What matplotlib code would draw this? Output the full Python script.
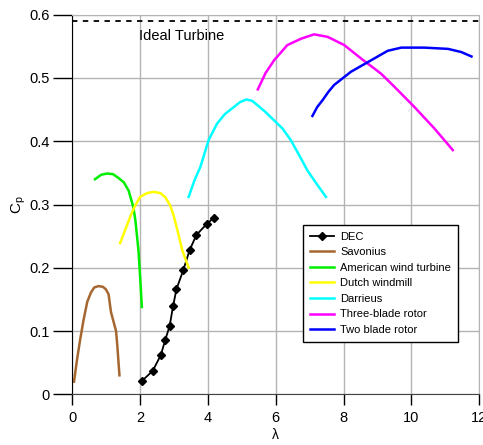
"""Power coefficient Cp vs tip speed ratio for several rotor types."""

import matplotlib
matplotlib.use("Agg")
import matplotlib.pyplot as plt

plt.rcParams["font.family"] = ["Liberation Sans", "DejaVu Sans"]
plt.rcParams["mathtext.fontset"] = "custom"
plt.rcParams["mathtext.rm"] = "Liberation Sans"

# values
dec_x = [2.05, 2.37, 2.61, 2.74, 2.87, 2.97, 3.07, 3.27, 3.46, 3.66, 3.96, 4.17]
dec_y = [0.021, 0.037, 0.062, 0.086, 0.108, 0.139, 0.166, 0.196, 0.228, 0.252, 0.269, 0.279]

savonius_x = [0.05, 0.14, 0.23, 0.33, 0.44, 0.55, 0.65, 0.77, 0.90, 0.99, 1.07, 1.14, 1.29, 1.33, 1.39]
savonius_y = [0.02, 0.055, 0.086, 0.117, 0.146, 0.161, 0.169, 0.171, 0.170, 0.166, 0.158, 0.13, 0.10, 0.075, 0.03]

american_x = [0.67, 0.85, 1.02, 1.20, 1.36, 1.52, 1.66, 1.80, 1.86, 1.95, 2.0, 2.05]
american_y = [0.340, 0.347, 0.349, 0.348, 0.342, 0.335, 0.322, 0.296, 0.275, 0.228, 0.186, 0.138]

dutch_x = [1.41, 1.56, 1.71, 1.85, 2.0, 2.2, 2.4, 2.6, 2.75, 2.89, 2.99, 3.12, 3.24, 3.43]
dutch_y = [0.239, 0.260, 0.281, 0.298, 0.312, 0.318, 0.320, 0.318, 0.311, 0.298, 0.282, 0.255, 0.228, 0.20]

darrieus_x = [3.43, 3.60, 3.78, 4.02, 4.27, 4.50, 4.76, 4.95, 5.13, 5.30, 5.46, 5.70, 5.95, 6.20, 6.44, 6.70, 6.93, 7.20, 7.48]
darrieus_y = [0.312, 0.338, 0.36, 0.402, 0.428, 0.443, 0.454, 0.462, 0.466, 0.464, 0.457, 0.446, 0.433, 0.420, 0.402, 0.377, 0.354, 0.333, 0.312]

three_x = [5.47, 5.70, 5.95, 6.34, 6.74, 7.13, 7.53, 8.02, 8.51, 9.10, 9.50, 10.09, 10.68, 11.22]
three_y = [0.482, 0.508, 0.528, 0.552, 0.562, 0.569, 0.565, 0.552, 0.531, 0.507, 0.486, 0.454, 0.420, 0.386]

two_x = [7.08, 7.22, 7.38, 7.55, 7.72, 8.22, 8.81, 9.30, 9.70, 10.38, 11.08, 11.47, 11.77]
two_y = [0.44, 0.454, 0.465, 0.478, 0.489, 0.510, 0.528, 0.543, 0.548, 0.548, 0.546, 0.541, 0.534]

betz_limit = 0.59


def main():
    fig = plt.figure(figsize=(4.83, 4.45), dpi=100)
    ax = fig.add_axes([0.1497, 0.1139, 0.8426, 0.853])

    ax.axhline(betz_limit, color="black", linestyle=(0, (3, 3)), linewidth=1.3)
    ax.text(1.97, 0.566, "Ideal Turbine", fontsize=10.5, va="center")

    ax.plot(dec_x, dec_y, color="black", linewidth=1.3, marker="D",
            markersize=4, label="DEC")
    ax.plot(savonius_x, savonius_y, color="#a5672f", linewidth=1.8, label="Savonius")
    ax.plot(american_x, american_y, color="#00ee00", linewidth=1.8,
            label="American wind turbine")
    ax.plot(dutch_x, dutch_y, color="#ffff00", linewidth=1.8, label="Dutch windmill")
    ax.plot(darrieus_x, darrieus_y, color="#00ffff", linewidth=1.8, label="Darrieus")
    ax.plot(three_x, three_y, color="#ff00ff", linewidth=1.8, label="Three-blade rotor")
    ax.plot(two_x, two_y, color="#0000ff", linewidth=1.8, label="Two blade rotor")

    ax.set_xlim(0, 12)
    ax.set_ylim(0, 0.6)
    ax.set_xticks(range(0, 13, 2))
    ax.set_yticks([0, 0.1, 0.2, 0.3, 0.4, 0.5, 0.6])
    ax.set_yticklabels(["0", "0.1", "0.2", "0.3", "0.4", "0.5", "0.6"])
    ax.grid(True, color="#b4b4b4", linewidth=1.0)
    ax.set_axisbelow(True)

    for side in ["top", "right"]:
        ax.spines[side].set_color("#b4b4b4")
    ax.spines["left"].set_color("black")
    ax.spines["bottom"].set_color("#444444")
    ax.tick_params(axis="y", length=14, width=1, labelsize=10.5, pad=2)
    ax.tick_params(axis="x", length=8, width=1, labelsize=10.5, pad=4)

    ax.set_xlabel("λ", fontsize=10, labelpad=2)
    ax.set_ylabel(r"C$_\mathregular{p}$", fontsize=11, labelpad=1)

    leg = ax.legend(loc="upper left", bbox_to_anchor=(0.567, 0.446), fontsize=8,
                    frameon=True, fancybox=False, handlelength=2.2,
                    handletextpad=0.55, borderpad=0.6, labelspacing=0.5,
                    borderaxespad=0)
    leg.get_frame().set_edgecolor("black")
    leg.get_frame().set_linewidth(1.0)
    leg.get_frame().set_alpha(1.0)

    fig.savefig("out.png", dpi=100)


if __name__ == "__main__":
    main()
